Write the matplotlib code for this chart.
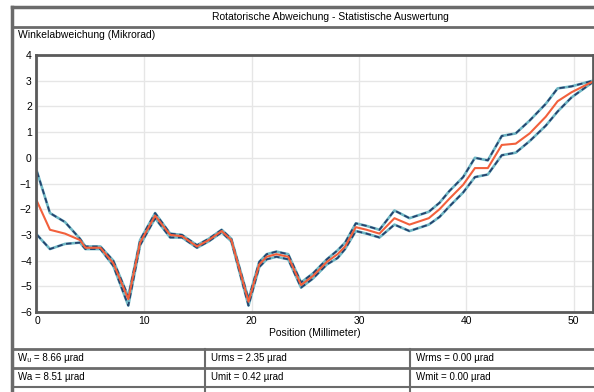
import matplotlib
matplotlib.use("Agg")
import matplotlib.pyplot as plt
from matplotlib.lines import Line2D

plt.rcParams['font.family'] = ['Liberation Sans Narrow', 'Liberation Sans', 'DejaVu Sans']

position = [0, 1.2, 2.6, 4.0, 4.5, 5.9, 7.1, 8.5, 9.6, 11.0, 12.4, 13.5, 14.9, 16.0,
            17.2, 18.1, 19.7, 20.7, 21.4, 22.3, 23.4, 24.6, 25.7, 27.0, 28.0, 28.7,
            29.7, 30.7, 31.9, 33.3, 34.7, 36.5, 37.5, 38.4, 39.7, 40.8, 42.0, 43.3,
            44.6, 45.9, 47.4, 48.5, 49.8, 51.8]
mittel = [-1.7, -2.8, -2.95, -3.2, -3.5, -3.5, -4.1, -5.5, -3.3, -2.25, -3.0, -3.05,
          -3.45, -3.2, -2.85, -3.2, -5.6, -4.15, -3.85, -3.75, -3.85, -4.95, -4.6,
          -4.05, -3.75, -3.45, -2.7, -2.8, -2.95, -2.35, -2.6, -2.35, -2.0, -1.6,
          -1.05, -0.4, -0.4, 0.5, 0.55, 0.95, 1.6, 2.2, 2.55, 2.97]
oben = [-0.55, -2.15, -2.5, -3.15, -3.45, -3.45, -4.0, -5.4, -3.2, -2.15, -2.95, -3.0,
        -3.4, -3.15, -2.8, -3.15, -5.5, -4.05, -3.75, -3.65, -3.75, -4.85, -4.5,
        -3.95, -3.6, -3.3, -2.55, -2.65, -2.8, -2.05, -2.35, -2.1, -1.75, -1.3,
        -0.75, 0.0, -0.1, 0.85, 0.95, 1.45, 2.1, 2.7, 2.78, 3.0]
unten = [-3.0, -3.55, -3.35, -3.3, -3.55, -3.55, -4.2, -5.75, -3.4, -2.35, -3.1, -3.1,
         -3.5, -3.25, -2.9, -3.25, -5.75, -4.25, -3.95, -3.85, -3.95, -5.05, -4.7,
         -4.15, -3.9, -3.55, -2.85, -2.95, -3.1, -2.6, -2.85, -2.6, -2.3, -1.9,
         -1.35, -0.75, -0.65, 0.1, 0.2, 0.65, 1.25, 1.8, 2.35, 2.95]

kennwerte = [["W\u1d64 = 8.66 \u00b5rad", "Urms = 2.35 \u00b5rad", "Wrms = 0.00 \u00b5rad"],
             ["Wa = 8.51 \u00b5rad", "Umit = 0.42 \u00b5rad", "Wmit = 0.00 \u00b5rad"]]

W, H = 594, 392
fig = plt.figure(figsize=(W / 100, H / 100), dpi=100)


def px(x, y):
    return x / W, 1 - y / H


def hline(y, x0, x1, lw=1.5, c='#6b6b6b'):
    (a, b), (c2, _) = px(x0, y), px(x1, y)
    fig.add_artist(Line2D([a, c2], [b, b], lw=lw, color=c))


def vline(x, y0, y1, lw=1.5, c='#6b6b6b'):
    (a, b), (_, d) = px(x, y0), px(x, y1)
    fig.add_artist(Line2D([a, a], [b, d], lw=lw, color=c))


# Rahmen
hline(7, 12, 594, lw=2.5)
hline(27, 12, 594, lw=2)
vline(12, 7, 392, lw=2.5)
hline(349, 12, 594, lw=2)
hline(368, 12, 594, lw=2)
hline(387, 12, 594, lw=1.5)
vline(205, 349, 392)
vline(410, 349, 392)

fig.text(*px(330, 17), "Rotatorische Abweichung - Statistische Auswertung",
         ha='center', va='center', fontsize=7.5)
fig.text(*px(18, 35), "Winkelabweichung (Mikrorad)", ha='left', va='center', fontsize=7.5)

cols = [18, 211, 416]
rows = [358, 377]
for r, zeile in enumerate(kennwerte):
    for c, txt in enumerate(zeile):
        fig.text(*px(cols[c], rows[r]), txt, ha='left', va='center', fontsize=7)

l, b = px(36, 312)
r, t = px(593, 55)
ax = fig.add_axes([l, b, r - l, t - b])
ax.set_xlim(-0.1, 51.8)
ax.set_ylim(-6, 4)
ax.set_xticks([0, 10, 20, 30, 40, 50])
ax.set_yticks(range(-6, 5))
ax.grid(True, color='#e6e6e6', lw=1)
ax.tick_params(length=0, labelsize=7.5, pad=3)
for s in ax.spines.values():
    s.set_color('#5a5a5a')
    s.set_linewidth(2)
ax.set_xlabel("Position (Millimeter)", fontsize=7.5, labelpad=1)

for serie in (oben, unten):
    ax.plot(position, serie, color='#6fb7c4', lw=1.9)
    ax.plot(position, serie, color='#25426e', lw=1.3, dashes=(3, 2))
ax.plot(position, mittel, color='#f2603c', lw=1.5)

fig.savefig("out.png", dpi=100)
